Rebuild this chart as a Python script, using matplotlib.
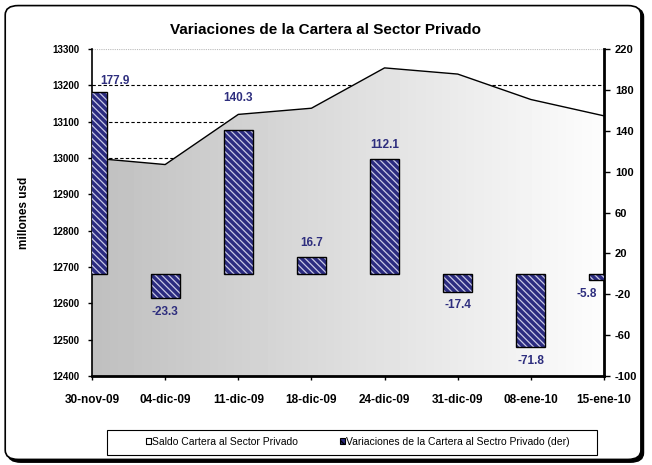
import matplotlib
matplotlib.use("Agg")
import matplotlib.pyplot as plt
import numpy as np
from matplotlib.patches import FancyBboxPatch, Rectangle, Patch, Polygon

# Datos
fechas = ["30-nov-09", "04-dic-09", "11-dic-09", "18-dic-09",
          "24-dic-09", "31-dic-09", "08-ene-10", "15-ene-10"]
saldo = [13000, 12982, 13120, 13137, 13248, 13231, 13161, 13116]
variaciones = [177.9, -23.3, 140.3, 16.7, 112.1, -17.4, -71.8, -5.8]

plt.rcParams["font.family"] = ["Liberation Sans", "DejaVu Sans"]
plt.rcParams["axes.unicode_minus"] = False

navy = "#2b2b80"
label_col = "#2e2e7e"

fig = plt.figure(figsize=(6.52, 4.65), dpi=100)

# marco redondeado con sombra
sombra = FancyBboxPatch((0.012, 0.006), 0.975, 0.978, boxstyle="round,pad=0,rounding_size=0.02",
                        transform=fig.transFigure, facecolor="black", edgecolor="black", zorder=-2)
marco = FancyBboxPatch((0.008, 0.012), 0.975, 0.976, boxstyle="round,pad=0,rounding_size=0.02",
                       transform=fig.transFigure, facecolor="white", edgecolor="black", lw=1.2, zorder=-1)
fig.patches.extend([sombra, marco])

ax = fig.add_axes([92/652, 1-376/465, 512/652, 327/465])
ax.set_facecolor("none")
x = np.arange(len(fechas))

ax.set_xlim(0, len(fechas) - 1)
ax.set_ylim(12400, 13300)

# area con degradado
grad = np.linspace(0.75, 0.99, 256).reshape(1, -1)
img = ax.imshow(grad, cmap="gray", vmin=0, vmax=1, aspect="auto",
                extent=[0, len(fechas) - 1, 12400, 13300], zorder=1)
poly = Polygon(list(zip(x, saldo)) + [(x[-1], 12400), (0, 12400)], closed=True,
               facecolor="none", edgecolor="none", transform=ax.transData)
ax.add_patch(poly)
img.set_clip_path(poly)
ax.plot(x, saldo, color="black", lw=1, zorder=2)

# grilla
for v in [13000, 13100, 13200]:
    ax.axhline(v, color="black", lw=0.8, ls=(0, (3, 2)), zorder=0.5)
ax.axhline(13300, color="#bbbbbb", lw=0.8, ls=(0, (1, 1)), zorder=0.5)

ax.set_yticks(np.arange(12400, 13301, 100))
ax.set_xticks(x)
ax.set_xticklabels(fechas, fontsize=8.5, fontweight="bold")
for t in ax.get_yticklabels():
    t.set_fontsize(7)
    t.set_fontweight("bold")
ax.tick_params(axis="y", length=3, width=1, pad=6)
ax.tick_params(axis="x", length=3, width=1, pad=10)
ax.set_ylabel("millones usd", fontsize=8.5, fontweight="bold", labelpad=16)
for s in ["top", "right"]:
    ax.spines[s].set_visible(False)
ax.spines["left"].set_linewidth(1.2)
ax.spines["bottom"].set_linewidth(2)

# eje derecho con barras
ax2 = ax.twinx()
ax2.set_ylim(-100, 220)
ax2.set_yticks(np.arange(-100, 221, 40))
for t in ax2.get_yticklabels():
    t.set_fontsize(8)
    t.set_fontweight("bold")
ax2.tick_params(axis="y", length=4, width=1, pad=4)
for s in ["top", "left"]:
    ax2.spines[s].set_visible(False)
ax2.spines["right"].set_linewidth(2)
ax2.spines["bottom"].set_visible(False)

plt.rcParams["hatch.linewidth"] = 0.9
rayado = "\\\\\\\\\\"
ancho = 0.4
ax2.bar(x, variaciones, width=ancho, color=navy, edgecolor="#c8c8e4", hatch=rayado, lw=0, zorder=3)
ax2.bar(x, variaciones, width=ancho, color="none", edgecolor="black", lw=1, zorder=4)
ax2.set_xlim(0, len(fechas) - 1)

for i, v in enumerate(variaciones):
    off = 10 if v > 0 else -10
    if i == 0:
        off = 8
    if i == 2:
        off = 23
    ha = "center"
    dx = 0
    if i == 0:
        dx = 6
        ha = "left"
    if i == len(variaciones) - 1:
        dx = -5
        ha = "right"
    ax2.annotate(f"{v:.1f}", (i, v), xytext=(dx, off), textcoords="offset points",
                 ha=ha, va="center", fontsize=8.5, fontweight="bold", color=label_col, zorder=5)

fig.text(0.5, 0.935, "Variaciones de la Cartera al Sector Privado", ha="center", va="center",
         fontsize=11, fontweight="bold")

# leyenda
fig.patches.append(Rectangle((107/652, 1-455/465), 490/652, 25/465, transform=fig.transFigure,
                             facecolor="white", edgecolor="black", lw=0.8))
handles = [Patch(facecolor="white", edgecolor="black", lw=0.8),
           Patch(facecolor=navy, edgecolor="black", hatch=rayado, lw=0.8)]
fig.legend(handles, ["Saldo Cartera al Sector Privado",
                     "Variaciones de la Cartera al Sectro Privado (der)"],
           loc="center", bbox_to_anchor=(358/652, 1-442/465), ncol=2, frameon=False,
           fontsize=7.5, handlelength=0.5, handleheight=0.5, handletextpad=0.1, columnspacing=4)

fig.savefig("out.png", dpi=100)
